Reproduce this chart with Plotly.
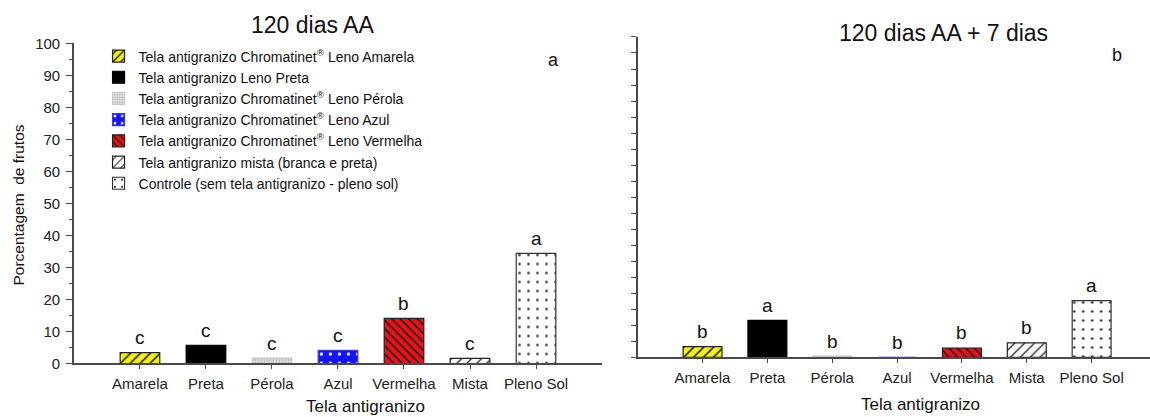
import plotly.graph_objects as go

# Hail-net treatments and the share of fruits (%) at each evaluation date
categories = ["Amarela", "Preta", "Pérola", "Azul", "Vermelha", "Mista", "Pleno Sol"]
legend_names = [
    "Tela antigranizo Chromatinet<sup>®</sup> Leno Amarela",
    "Tela antigranizo Leno Preta",
    "Tela antigranizo Chromatinet<sup>®</sup> Leno Pérola",
    "Tela antigranizo Chromatinet<sup>®</sup> Leno Azul",
    "Tela antigranizo Chromatinet<sup>®</sup> Leno Vermelha",
    "Tela antigranizo mista (branca e preta)",
    "Controle (sem tela antigranizo - pleno sol)",
]
pct_120 = [3.4, 5.7, 1.7, 4.1, 14.1, 1.6, 34.4]
pct_127 = [3.3, 11.5, 0.4, 0.0, 2.9, 4.5, 17.7]
letters_120 = ["c", "c", "c", "c", "b", "c", "a"]
letters_127 = ["b", "a", "b", "b", "b", "b", "a"]
y_ticks = [0, 10, 20, 30, 40, 50, 60, 70, 80, 90, 100]

FONT = "Arial, Liberation Sans, sans-serif"
AXIS = "#4a4a4a"

# fill style per treatment: background, pattern shape, pattern colour, size, solidity, outline
styles = [
    dict(bg="#f2f01a", shape="/", fg="#111111", size=7, sol=0.22, line="#222222"),
    dict(bg="#000000", shape="", fg="#000000", size=8, sol=0.3, line="#000000"),
    dict(bg="#eeeeee", shape=".", fg="#b8b8b8", size=3, sol=0.5, line="#c8c8c8"),
    dict(bg="#1414f5", shape=".", fg="#ffffff", size=9, sol=0.1, line="#3a3ad0"),
    dict(bg="#e0161c", shape="\\", fg="#111111", size=6, sol=0.22, line="#222222"),
    dict(bg="#ffffff", shape="/", fg="#222222", size=7, sol=0.18, line="#222222"),
    dict(bg="#ffffff", shape=".", fg="#333333", size=9, sol=0.07, line="#333333"),
]

fig = go.Figure()

panels = [("x", "y", pct_120, letters_120, True), ("x2", "y2", pct_127, letters_127, False)]
for xa, ya, values, letters, show in panels:
    for i, cat in enumerate(categories):
        st = styles[i]
        fig.add_trace(go.Bar(
            x=[cat], y=[values[i]], xaxis=xa, yaxis=ya, width=0.6,
            name=legend_names[i], showlegend=show, legendgroup=cat,
            marker=dict(
                color=st["bg"],
                line=dict(color=st["line"], width=1.2),
                pattern=dict(shape=st["shape"], fgcolor=st["fg"], bgcolor=st["bg"],
                             size=st["size"], solidity=st["sol"], fillmode="replace"),
            ),
            hoverinfo="skip",
        ))
        fig.add_annotation(
            x=cat, y=values[i], xref=xa, yref=ya, text=letters[i], showarrow=False,
            yshift=15, yanchor="middle", font=dict(size=19, color="#111111", family=FONT),
        )

xaxis_common = dict(
    type="category", categoryorder="array", categoryarray=categories,
    range=[-1, 7], showline=True, linecolor=AXIS, linewidth=1.5,
    ticks="outside", ticklen=4, tickcolor=AXIS, tickwidth=1.2,
    tickfont=dict(size=15, color="#222222", family=FONT),
    showgrid=False, zeroline=False, fixedrange=True, ticklabelstandoff=2,
    automargin=False,
)
yaxis_common = dict(
    range=[0, 100], showline=True, linecolor=AXIS, linewidth=1.5,
    ticks="outside", tickcolor=AXIS, tickwidth=1.2, showgrid=False, zeroline=False,
    automargin=False,
)

fig.update_layout(
    width=1150, height=417,
    margin=dict(l=0, r=0, t=0, b=0, autoexpand=False),
    paper_bgcolor="white", plot_bgcolor="white",
    barmode="overlay",
    font=dict(family=FONT, color="#111111"),
    xaxis=dict(domain=[0.0643, 0.5235], anchor="y", **xaxis_common),
    xaxis2=dict(domain=[0.5545, 1.0], anchor="y2", **{**xaxis_common, "range": [-1, 6.9]}),
    yaxis=dict(domain=[0.1283, 0.8957], anchor="x", tickvals=y_ticks, ticklen=6,
               minor=dict(dtick=5, ticklen=3, ticks="outside", tickcolor=AXIS),
               tickfont=dict(size=15, color="#222222", family=FONT), ticklabelstandoff=3,
               **yaxis_common),
    yaxis2=dict(domain=[0.1432, 0.9113], anchor="x2", dtick=5, ticklen=5,
                showticklabels=False, **yaxis_common),
    legend=dict(
        x=0.0857, y=0.903, xanchor="left", yanchor="top",
        bgcolor="rgba(0,0,0,0)", font=dict(size=14, color="#111111", family=FONT),
        traceorder="normal", tracegroupgap=0, itemclick=False,
    ),
    showlegend=True,
)

# panel titles, panel letters and axis titles
texts = [
    dict(x=0.272, y=0.940, text="120 dias AA", size=23),
    dict(x=0.820, y=0.921, text="120 dias AA + 7 dias", size=23),
    dict(x=0.4817, y=0.856, text="a", size=18),
    dict(x=0.971, y=0.868, text="b", size=18),
    dict(x=0.318, y=0.026, text="Tela antigranizo", size=17),
    dict(x=0.800, y=0.029, text="Tela antigranizo", size=17),
]
for t in texts:
    fig.add_annotation(x=t["x"], y=t["y"], xref="paper", yref="paper", text=t["text"],
                       showarrow=False, xanchor="center", yanchor="middle",
                       font=dict(size=t["size"], color="#111111", family=FONT))
fig.add_annotation(x=0.016, y=0.508, xref="paper", yref="paper",
                   text="Porcentagem\u00a0\u00a0de frutos", textangle=-90, showarrow=False,
                   xanchor="center", yanchor="middle",
                   font=dict(size=15.5, color="#111111", family=FONT))

fig.write_html("out.html")
